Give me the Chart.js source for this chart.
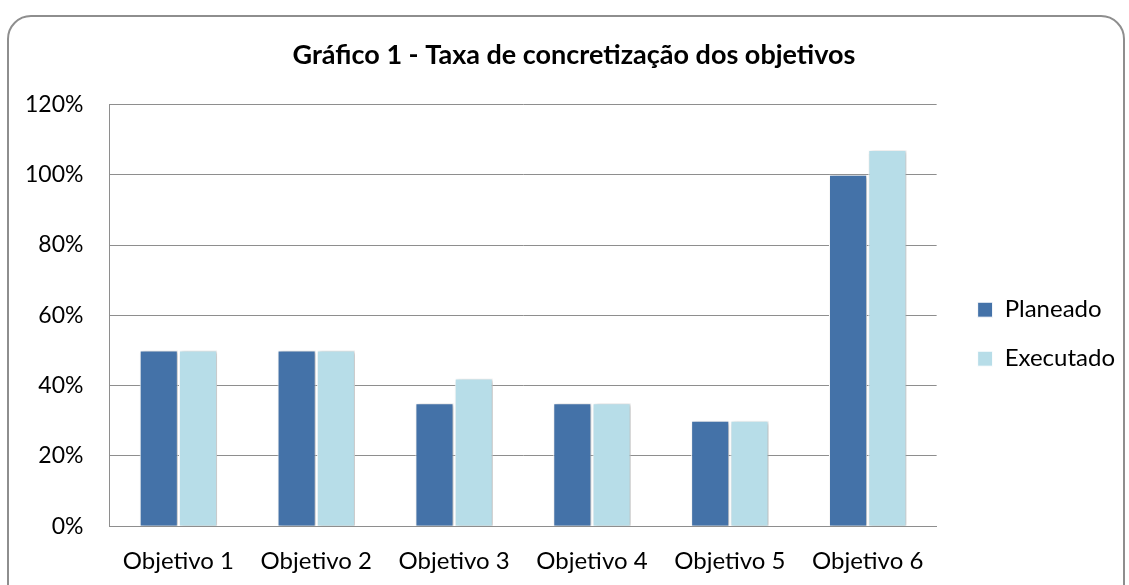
<!DOCTYPE html>
<html>
<head>
<meta charset="utf-8">
<script src="https://cdn.jsdelivr.net/npm/chart.js"></script>
<style>
  html, body { margin: 0; padding: 0; background: #fff; overflow: hidden; }
  #moldura {
    position: absolute; left: 7px; top: 15px; width: 1118px; height: 640px;
    border: 2px solid #8e8e8e; border-radius: 24px; box-sizing: border-box;
  }
  #caixa { position: absolute; left: 0; top: 0; width: 1129px; height: 585px; }
</style>
</head>
<body>
<div id="moldura"></div>
<div id="caixa"><canvas id="grafico"></canvas></div>
<script>
// Dados do gráfico
const objetivos = ['Objetivo 1', 'Objetivo 2', 'Objetivo 3', 'Objetivo 4', 'Objetivo 5', 'Objetivo 6'];
const planeado = [50, 50, 35, 35, 30, 100];
const executado = [50, 50, 42, 35, 30, 107];
const ticksY = [0, 20, 40, 60, 80, 100, 120];

const fonte = 'Lato, "Open Sans", sans-serif';

// Sombra suave nas barras (como no Excel)
const sombraBarras = {
    id: 'sombraBarras',
    beforeDatasetsDraw(chart) {
        const ctx = chart.ctx;
        ctx.save();
        ctx.shadowColor = 'rgba(0, 0, 0, 0.28)';
        ctx.shadowBlur = 4;
        ctx.shadowOffsetX = 2;
        ctx.shadowOffsetY = 1;
    },
    afterDatasetsDraw(chart) {
        chart.ctx.restore();
    }
};

// Afasta um pouco a legenda da área do gráfico e centra o título na moldura
const ajustaCaixas = {
    id: 'ajustaCaixas',
    afterLayout(chart) {
        const lg = chart.legend;
        if (lg) {
            lg.left += 16;
            lg.right += 16;
        }
        const tt = chart.titleBlock;
        if (tt) {
            tt.left += 20;
            tt.right += 20;
        }
    }
};

new Chart(document.getElementById('grafico'), {
    type: 'bar',
    data: {
        labels: objetivos,
        datasets: [{
            label: 'Planeado',
            data: planeado,
            backgroundColor: '#4472a8',
            borderColor: '#ffffff',
            borderWidth: 1,
            categoryPercentage: 0.57,
            barPercentage: 0.97
        }, {
            label: 'Executado',
            data: executado,
            backgroundColor: '#b7dde8',
            borderColor: '#ffffff',
            borderWidth: 1,
            categoryPercentage: 0.57,
            barPercentage: 0.97
        }]
    },
    options: {
        responsive: true,
        maintainAspectRatio: false,
        animation: false,
        layout: {
            padding: { left: -1, right: 20, top: 0, bottom: -12 }
        },
        scales: {
            x: {
                grid: { display: false, drawTicks: false },
                border: { display: true, color: '#8e8e8e', width: 1 },
                ticks: {
                    color: '#000',
                    padding: 21,
                    font: { family: fonte, size: 24 }
                }
            },
            y: {
                min: 0,
                max: 120,
                afterBuildTicks(scale) {
                    scale.ticks = ticksY.map(v => ({ value: v }));
                },
                grid: { color: '#8e8e8e', drawTicks: false },
                border: { display: true, color: '#8e8e8e', width: 1 },
                ticks: {
                    color: '#000',
                    padding: 26,
                    font: { family: fonte, size: 23 },
                    callback: v => v + '%'
                }
            }
        },
        plugins: {
            title: {
                display: true,
                text: 'Gráfico 1 - Taxa de concretização dos objetivos',
                color: '#000',
                font: { family: fonte, size: 27, weight: 'bold' },
                padding: { top: 39, bottom: 33 }
            },
            legend: {
                position: 'right',
                fullSize: false,
                title: {
                    display: true,
                    text: ' ',
                    font: { size: 14 },
                    padding: { top: 0, bottom: 21 }
                },
                labels: {
                    color: '#000',
                    boxWidth: 15,
                    boxHeight: 15,
                    padding: 25,
                    font: { family: fonte, size: 24 }
                }
            },
            tooltip: { enabled: false }
        }
    },
    plugins: [sombraBarras, ajustaCaixas]
});
</script>
</body>
</html>
